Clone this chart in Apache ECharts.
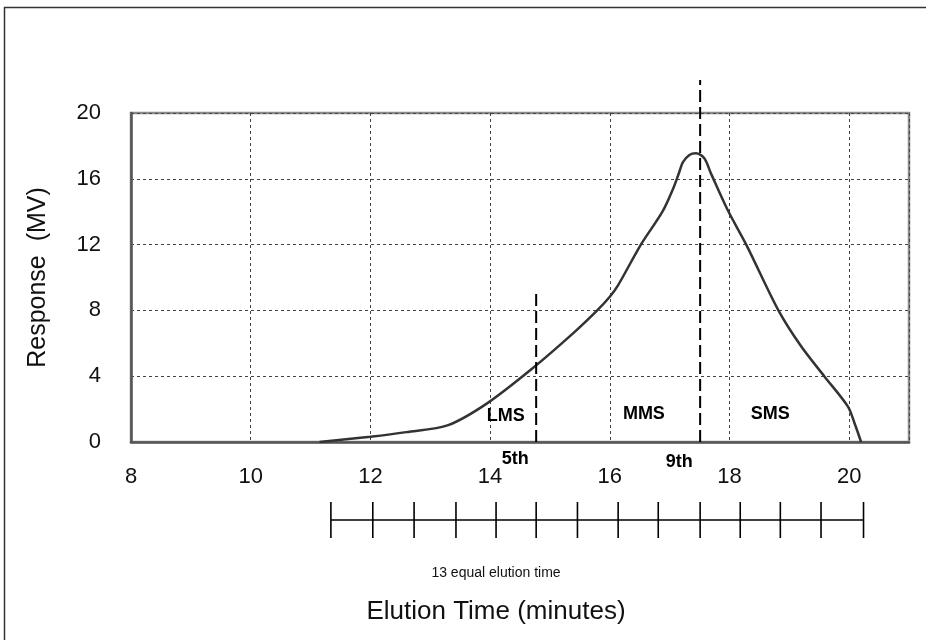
<!DOCTYPE html>
<html>
<head>
    <meta charset="utf-8">
    <title>Elution profile</title>
    <script src="https://cdn.jsdelivr.net/npm/echarts@6/dist/echarts.min.js"></script>
    <style>
        body { margin: 0; background: #fff; }
    </style>
</head>
<body>
    <div id="main" style="width: 926px; height: 640px;"></div>
    <script type="text/javascript">
        // elution curve (minutes, MV)
        var times = [11.15, 12.0, 12.6, 13.3, 13.95, 14.7, 15.4, 15.79, 16.0, 16.14, 16.52, 16.88, 17.07, 17.16, 17.22, 17.33, 17.44, 17.58, 17.69, 17.97, 18.28, 18.83, 19.2, 19.59, 19.98, 20.09, 20.2];
        var response = [0, 0.32, 0.6, 1.03, 2.35, 4.45, 6.65, 8.0, 8.83, 9.54, 12.0, 14.0, 15.5, 16.4, 17.0, 17.45, 17.55, 17.25, 16.33, 14.1, 12.0, 7.92, 5.8, 3.97, 2.15, 1.14, 0];

        // boundaries of the 13 equal elution time slices
        var sliceEdges = [11.34, 12.04, 12.73, 13.43, 14.10, 14.77, 15.46, 16.14, 16.81, 17.51, 18.18, 18.85, 19.53, 20.24];

        // dashed cut lines: [time, top of line]
        var cut5 = [14.77, 9.2];
        var cut9 = [17.51, 22.0];

        var regionLabels = [['LMS', 14.26, 1.6], ['MMS', 16.57, 1.7], ['SMS', 18.68, 1.7]];
        var cutLabels = [['5th', 14.42, -1.05], ['9th', 17.16, -1.2]];

        var myChart = echarts.init(document.getElementById('main'));
        var font = '"Liberation Sans", Arial, sans-serif';

        var curve = times.map(function (t, i) { return [t, response[i]]; });

        var option = {
            animation: false,
            textStyle: { fontFamily: font },
            grid: [
                { left: 131, right: 17, top: 113, bottom: 198, show: true, borderColor: '#8a8a8a', borderWidth: 2.5 },
                { left: 131, right: 17, top: 502, height: 36 }
            ],
            xAxis: [{
                type: 'value', min: 8, max: 21, interval: 2,
                axisLine: { show: true, lineStyle: { color: '#555', width: 2.5 } },
                axisTick: { show: false },
                axisLabel: { showMaxLabel: false, margin: 24, fontSize: 22, color: '#111', fontFamily: font },
                splitLine: { show: true, lineStyle: { color: '#444', type: [3, 3], width: 1 } }
            }, {
                gridIndex: 1, type: 'value', min: 8, max: 21, show: false
            }],
            yAxis: [{
                type: 'value', min: 0, max: 20, interval: 4,
                name: 'Response  (MV)', nameLocation: 'middle', nameGap: 80,
                nameTextStyle: { fontSize: 25, color: '#111', fontFamily: font },
                axisLine: { show: true, lineStyle: { color: '#555', width: 2.5 } },
                axisTick: { show: false },
                axisLabel: { margin: 30, fontSize: 22, color: '#111', fontFamily: font },
                splitLine: { show: true, lineStyle: { color: '#444', type: [3, 3], width: 1 } }
            }, {
                gridIndex: 1, type: 'value', min: 0, max: 1, show: false
            }],
            graphic: [
                { type: 'line', shape: { x1: 4, y1: 7.5, x2: 926, y2: 7.5 }, style: { stroke: '#333', lineWidth: 1.5 } },
                { type: 'line', shape: { x1: 4.5, y1: 7, x2: 4.5, y2: 640 }, style: { stroke: '#333', lineWidth: 1.5 } },
                { type: 'text', x: 496, y: 573, style: { text: '13 equal elution time', fontSize: 14, fontFamily: font, fill: '#111', align: 'center', verticalAlign: 'middle' } },
                { type: 'text', x: 496, y: 612, style: { text: 'Elution Time (minutes)', fontSize: 26, fontFamily: font, fill: '#111', align: 'center', verticalAlign: 'middle' } }
            ],
            series: [
                {
                    type: 'line', data: curve, smooth: 0.3, symbol: 'none',
                    lineStyle: { color: '#333', width: 2.5 }, z: 5
                },
                {
                    type: 'line', data: [[cut5[0], 0], cut5], symbol: 'none', clip: false,
                    lineStyle: { color: '#000', width: 2, type: [12, 5] }, z: 6
                },
                {
                    type: 'line', data: [[cut9[0], 0], cut9], symbol: 'none', clip: false,
                    lineStyle: { color: '#000', width: 2, type: [12, 5] }, z: 6
                },
                {
                    type: 'scatter', symbolSize: 0, clip: false, z: 7,
                    itemStyle: { opacity: 1 },
                    data: regionLabels.concat(cutLabels).map(function (d) { return { name: d[0], value: [d[1], d[2]] }; }),
                    label: {
                        show: true, position: 'inside', formatter: '{b}', opacity: 1,
                        fontSize: 18, fontWeight: 'bold', color: '#000', fontFamily: font
                    }
                },
                {
                    type: 'line', xAxisIndex: 1, yAxisIndex: 1, symbol: 'none',
                    data: [[sliceEdges[0], 0.5], [sliceEdges[sliceEdges.length - 1], 0.5]],
                    lineStyle: { color: '#000', width: 1.5 }
                },
                {
                    type: 'scatter', xAxisIndex: 1, yAxisIndex: 1, symbol: 'rect', symbolSize: [1.6, 36],
                    itemStyle: { color: '#000', opacity: 1 },
                    data: sliceEdges.map(function (t) { return [t, 0.5]; })
                }
            ]
        };

        myChart.setOption(option);
    </script>
</body>
</html>
